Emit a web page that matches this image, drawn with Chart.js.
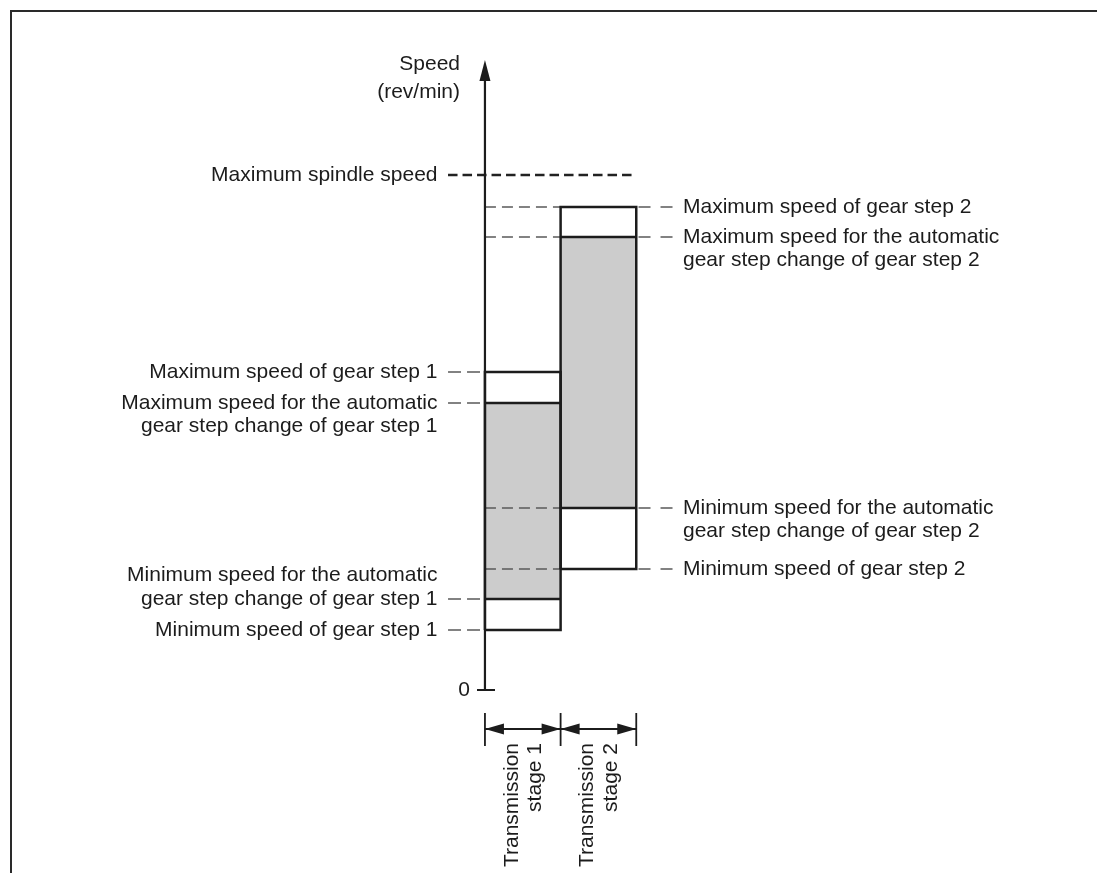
<!DOCTYPE html>
<html>
<head>
<meta charset="utf-8">
<script src="https://cdn.jsdelivr.net/npm/chart.js@4/dist/chart.umd.min.js"></script>
<style>
html, body { margin: 0; padding: 0; background: #ffffff; }
#wrap { position: relative; width: 1097px; height: 873px; overflow: hidden; background: #fff; }
#frame { position: absolute; left: 10px; top: 10px; width: 1300px; height: 1000px;
         border-left: 2px solid #2a2a2a; border-top: 2px solid #2a2a2a; box-sizing: border-box; }
#c { position: absolute; left: 0; top: 0; }
</style>
</head>
<body>
<div id="wrap">
  <div id="frame"></div>
  <canvas id="c" width="1097" height="873"></canvas>
</div>
<script>
// ---------------- data ----------------
const stages = ['Transmission stage 1', 'Transmission stage 2'];
const stageLabelLines = [['Transmission', 'stage 1'], ['Transmission', 'stage 2']];
const minGear = [600, 1210];   // minimum speed of gear step (rev/min, schematic)
const minAuto = [910, 1820];   // minimum speed for automatic gear step change
const maxAuto = [2870, 4530];  // maximum speed for automatic gear step change
const maxGear = [3180, 4830];  // maximum speed of gear step
const maxSpindleSpeed = 5150;
const axisTopValue = 6300;
const yTickValues = [0];
const yTickLabels = ['0'];
const axisTitleLines = ['Speed', '(rev/min)'];
const spindleLabel = 'Maximum spindle speed';
const maxGearLabels = [['Maximum speed of gear step 1'], ['Maximum speed of gear step 2']];
const maxAutoLabels = [['Maximum speed for the automatic', 'gear step change of gear step 1'],
                       ['Maximum speed for the automatic', 'gear step change of gear step 2']];
const minAutoLabels = [['Minimum speed for the automatic', 'gear step change of gear step 1'],
                       ['Minimum speed for the automatic', 'gear step change of gear step 2']];
const minGearLabels = [['Minimum speed of gear step 1'], ['Minimum speed of gear step 2']];

// ---------------- layout (scale units) ----------------
const X_MIN = -6.41, X_MAX = 8.09, Y_MIN = -1830, Y_MAX = 6900;
const LEFT_LEADER_START = -0.488, LEFT_TEXT_X = -0.627;
const RIGHT_LEADER_START = 2.03, RIGHT_LEADER_END = 2.49, RIGHT_TEXT_X = 2.618;
const TITLE_X = -0.33, TITLE_Y = [6260, 5980];
const ZERO_TEXT_X = -0.198, ZERO_TICK = [-0.105, 0.133];
const DIM_Y = -390, DIM_TICK = [-230, -560], STAGE_TEXT_END = -530;

const INK = '#1c1c1c';
const LEADER = '#5a5a5a';

function lineDs(points, opts) {
  return Object.assign({
    type: 'line', showLine: true, data: points, pointRadius: 0, pointHoverRadius: 0,
    fill: false, tension: 0, borderColor: INK, borderWidth: 2.5, order: 0,
    borderJoinStyle: 'miter', borderCapStyle: 'butt'
  }, opts || {});
}

const datasets = [];

// outlines of the gear-step boxes
stages.forEach((s, i) => {
  datasets.push(lineDs([
    {x: i, y: minGear[i]}, {x: i + 1, y: minGear[i]}, {x: i + 1, y: maxGear[i]},
    {x: i, y: maxGear[i]}, {x: i, y: minGear[i]}
  ]));
  datasets.push(lineDs([{x: i, y: minAuto[i]}, {x: i + 1, y: minAuto[i]}]));
  datasets.push(lineDs([{x: i, y: maxAuto[i]}, {x: i + 1, y: maxAuto[i]}]));
});

// speed axis and zero tick
datasets.push(lineDs([{x: 0, y: 0}, {x: 0, y: axisTopValue - 150}], {borderWidth: 2.2}));
yTickValues.forEach(v => {
  datasets.push(lineDs([{x: ZERO_TICK[0], y: v}, {x: ZERO_TICK[1], y: v}], {borderWidth: 2}));
});

// dimension lines for transmission stages
datasets.push(lineDs([{x: 0, y: DIM_Y}, {x: stages.length, y: DIM_Y}], {borderWidth: 1.8}));
for (let i = 0; i <= stages.length; i++) {
  datasets.push(lineDs([{x: i, y: DIM_TICK[0]}, {x: i, y: DIM_TICK[1]}], {borderWidth: 1.8}));
}

// leader lines
stages.forEach((s, i) => {
  [minGear[i], minAuto[i], maxAuto[i], maxGear[i]].forEach(v => {
    if (i === 0) {
      datasets.push(lineDs([{x: LEFT_LEADER_START, y: v}, {x: 0, y: v}],
        {borderWidth: 1.4, borderColor: LEADER, borderDash: [13, 6], order: 1}));
    } else {
      datasets.push(lineDs([{x: 0, y: v}, {x: i, y: v}],
        {borderWidth: 1.4, borderColor: LEADER, borderDash: [11, 6], order: 1}));
      datasets.push(lineDs([{x: RIGHT_LEADER_START, y: v}, {x: RIGHT_LEADER_END, y: v}],
        {borderWidth: 1.4, borderColor: LEADER, borderDash: [12, 10], order: 1}));
    }
  });
});

// maximum spindle speed
datasets.push(lineDs([{x: LEFT_LEADER_START, y: maxSpindleSpeed}, {x: stages.length, y: maxSpindleSpeed}],
  {borderWidth: 2.5, borderColor: '#222', borderDash: [9.5, 5], order: 1}));

// shaded automatic gear-change ranges: top edge filled down to the lower limit
stages.forEach((s, i) => {
  datasets.push(lineDs([{x: i, y: maxAuto[i]}, {x: i + 1, y: maxAuto[i]}], {
    borderWidth: 0, borderColor: 'rgba(0,0,0,0)', backgroundColor: '#cccccc',
    fill: {value: minAuto[i]}, order: 5
  }));
});

// ---------------- text + arrowheads ----------------
function arrow(ctx, tx, ty, dx, dy, L, W) {
  const bx = tx - dx * L, by = ty - dy * L;
  ctx.beginPath();
  ctx.moveTo(tx, ty);
  ctx.lineTo(bx - dy * W, by + dx * W);
  ctx.lineTo(bx + dy * W, by - dx * W);
  ctx.closePath();
  ctx.fill();
}

const annotPlugin = {
  id: 'annot',
  afterDatasetsDraw(chart) {
    const {ctx} = chart;
    const xs = chart.scales.x, ys = chart.scales.y;
    const X = v => xs.getPixelForValue(v), Y = v => ys.getPixelForValue(v);
    ctx.save();
    ctx.fillStyle = INK;

    // arrowheads
    arrow(ctx, X(0), Y(axisTopValue), 0, -1, 21, 5.5);
    stages.forEach((s, i) => {
      arrow(ctx, X(i), Y(DIM_Y), -1, 0, 19, 5.5);
      arrow(ctx, X(i + 1), Y(DIM_Y), 1, 0, 19, 5.5);
    });

    ctx.font = '21px "Liberation Sans", Arial, Helvetica, sans-serif';
    ctx.textBaseline = 'middle';
    const LH = 23.5;
    const drawLines = (arr, px, py, align, growUp) => {
      ctx.textAlign = align;
      const off = growUp ? -(arr.length - 1) * LH : 0;
      arr.forEach((t, k) => ctx.fillText(t, px, py + off + k * LH));
    };

    // axis title
    ctx.textAlign = 'right';
    axisTitleLines.forEach((t, k) => ctx.fillText(t, X(TITLE_X), Y(TITLE_Y[k])));
    // zero tick label
    yTickValues.forEach((v, k) => { ctx.textAlign = 'right'; ctx.fillText(yTickLabels[k], X(ZERO_TEXT_X), Y(v)); });
    // spindle
    drawLines([spindleLabel], X(LEFT_TEXT_X), Y(maxSpindleSpeed), 'right', false);

    stages.forEach((s, i) => {
      const left = i === 0;
      const tx = left ? X(LEFT_TEXT_X) : X(RIGHT_TEXT_X);
      const al = left ? 'right' : 'left';
      drawLines(maxGearLabels[i], tx, Y(maxGear[i]), al, false);
      drawLines(maxAutoLabels[i], tx, Y(maxAuto[i]), al, false);
      drawLines(minAutoLabels[i], tx, Y(minAuto[i]), al, left);
      drawLines(minGearLabels[i], tx, Y(minGear[i]), al, false);
    });

    // rotated stage labels
    stages.forEach((s, i) => {
      const cx = X(i + 0.5);
      const offs = [-11, 12.5];
      stageLabelLines[i].forEach((t, k) => {
        ctx.save();
        ctx.translate(cx + offs[k], Y(STAGE_TEXT_END));
        ctx.rotate(-Math.PI / 2);
        ctx.textAlign = 'right';
        ctx.textBaseline = 'middle';
        ctx.fillText(t, 0, 0);
        ctx.restore();
      });
    });
    ctx.restore();
  }
};

new Chart(document.getElementById('c'), {
  type: 'scatter',
  data: {datasets},
  options: {
    responsive: false,
    animation: false,
    events: [],
    layout: {padding: 0},
    plugins: {legend: {display: false}, tooltip: {enabled: false}, title: {display: false}},
    scales: {
      x: {type: 'linear', display: false, offset: false, bounds: 'data', min: X_MIN, max: X_MAX,
          grace: 0, ticks: {includeBounds: false}},
      y: {type: 'linear', display: false, offset: false, bounds: 'data', min: Y_MIN, max: Y_MAX,
          grace: 0, ticks: {includeBounds: false}}
    }
  },
  plugins: [annotPlugin]
});
</script>
</body>
</html>
